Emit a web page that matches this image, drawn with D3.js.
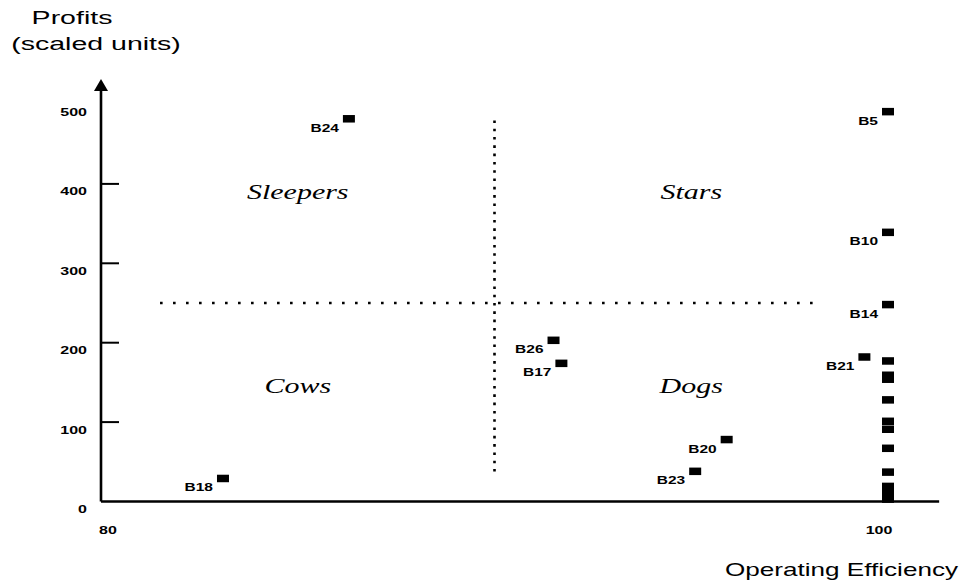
<!DOCTYPE html>
<html lang="en">
<head>
  <meta charset="UTF-8">
  <title>Profits vs Operating Efficiency</title>
  <script src="https://d3js.org/d3.v7.min.js"></script>
  <style>
    body {
      margin: 0;
      padding: 0;
      background-color: #fff;
    }
    svg text {
      fill: #000;
    }
    .tick-label, .point-label {
      font-family: 'Liberation Sans', Arial, sans-serif;
      font-weight: bold;
      font-size: 10px;
    }
    .title {
      font-family: 'Liberation Sans', Arial, sans-serif;
    }
    .quadrant {
      font-family: 'Liberation Serif', 'Times New Roman', serif;
      font-style: italic;
      font-size: 20px;
    }
  </style>
</head>
<body>
  <div id="chart"></div>

  <script>
    // labeled business units: efficiency (x) and profit (y)
    const unitNames = ["B24", "B5", "B10", "B14", "B21", "B26", "B17", "B20", "B23", "B18"];
    const unitEff = [86.3, 100, 100, 100, 99.4, 91.5, 91.7, 95.9, 95.1, 83.1];
    const unitProfit = [482, 491, 339, 248, 182, 203, 174, 78, 38, 29];

    // unlabeled units stacked at 100% efficiency
    const otherEff = [100, 100, 100, 100, 100, 100, 100, 100, 100, 100, 100];
    const otherProfit = [177, 159, 154, 128, 101, 91, 67, 37, 19, 11, 3];

    const yTickValues = [0, 100, 200, 300, 400, 500];
    const yTickMarks = [100, 200, 300, 400];
    const xTickValues = [80, 100];

    const quadNames = ["Sleepers", "Stars", "Cows", "Dogs"];
    const quadEff = [85, 95, 85, 95];
    const quadProfit = [390, 390, 145, 145];

    // cut-off lines
    const vCutEff = 90, vCutProfit = [32, 480];
    const hCutProfit = 250, hCutEff = [81.5, 98.3];

    const width = 966, height = 585;
    const svg = d3.select("#chart")
      .append("svg")
      .attr("width", width)
      .attr("height", height);

    const x = d3.scaleLinear().domain([80, 100]).range([101, 888]);
    const y = d3.scaleLinear().domain([0, 500]).range([501.5, 104.5]);

    // text stretched horizontally like the scanned original
    function stretchText(parent, px, py, str, cls, anchor, sx) {
      return parent.append("g")
        .attr("transform", `translate(${px},${py}) scale(${sx},1)`)
        .append("text")
        .attr("class", cls)
        .attr("text-anchor", anchor)
        .attr("dy", "0.35em")
        .text(str);
    }

    // axis titles
    stretchText(svg, 72, 17, "Profits", "title", "middle", 1.5).style("font-size", "19px");
    stretchText(svg, 96, 43, "(scaled units)", "title", "middle", 1.5).style("font-size", "19px");
    stretchText(svg, 958, 570, "Operating Efficiency", "title", "end", 1.45).style("font-size", "18px");

    // y axis with arrow
    svg.append("line")
      .attr("x1", x(80)).attr("x2", x(80))
      .attr("y1", y(0)).attr("y2", 88)
      .attr("stroke", "#000").attr("stroke-width", 2.6);
    svg.append("path")
      .attr("d", `M${x(80)},79 L${x(80) - 7},91 L${x(80) + 7},91 Z`)
      .attr("fill", "#000");

    // x axis line
    svg.append("line")
      .attr("x1", x(80)).attr("x2", x(101.3))
      .attr("y1", y(0)).attr("y2", y(0))
      .attr("stroke", "#000").attr("stroke-width", 2.4);

    // inner tick marks
    svg.selectAll(".ytick")
      .data(yTickMarks)
      .enter()
      .append("line")
      .attr("class", "ytick")
      .attr("x1", x(80)).attr("x2", x(80) + 18)
      .attr("y1", d => y(d)).attr("y2", d => y(d))
      .attr("stroke", "#000").attr("stroke-width", 2);

    yTickValues.forEach(v => {
      stretchText(svg, 87, y(v) + 8, v, "tick-label", "end", 1.6);
    });

    xTickValues.forEach(v => {
      const px = v === 80 ? x(v) + 7 : x(v) - 9;
      stretchText(svg, px, 530, v, "tick-label", "middle", 1.6);
    });

    // dotted cut-off lines
    svg.append("line")
      .attr("x1", x(vCutEff)).attr("x2", x(vCutEff))
      .attr("y1", y(vCutProfit[1])).attr("y2", y(vCutProfit[0]))
      .attr("stroke", "#000").attr("stroke-width", 2.6)
      .attr("stroke-dasharray", "2.6,5.7");
    svg.append("line")
      .attr("x1", x(hCutEff[0])).attr("x2", x(hCutEff[1]))
      .attr("y1", y(hCutProfit)).attr("y2", y(hCutProfit))
      .attr("stroke", "#000").attr("stroke-width", 2.6)
      .attr("stroke-dasharray", "2.6,10.4");

    // quadrant names
    quadNames.forEach((name, i) => {
      stretchText(svg, x(quadEff[i]), y(quadProfit[i]), name, "quadrant", "middle", 1.5);
    });

    // points
    const sqW = 12, sqH = 7.5;
    const others = otherEff.map((e, i) => ({ e: e, p: otherProfit[i] }));
    const units = unitNames.map((n, i) => ({ name: n, e: unitEff[i], p: unitProfit[i] }));

    svg.selectAll(".other")
      .data(others)
      .enter()
      .append("rect")
      .attr("class", "other")
      .attr("x", d => x(d.e) - sqW / 2)
      .attr("y", d => y(d.p) - sqH / 2)
      .attr("width", sqW)
      .attr("height", sqH)
      .attr("fill", "#000");

    svg.selectAll(".unit")
      .data(units)
      .enter()
      .append("rect")
      .attr("class", "unit")
      .attr("x", d => x(d.e) - sqW / 2)
      .attr("y", d => y(d.p) - sqH / 2)
      .attr("width", sqW)
      .attr("height", sqH)
      .attr("fill", "#000");

    units.forEach(d => {
      stretchText(svg, x(d.e) - sqW / 2 - 4, y(d.p) + 9.5, d.name, "point-label", "end", 1.55);
    });
  </script>
</body>
</html>
